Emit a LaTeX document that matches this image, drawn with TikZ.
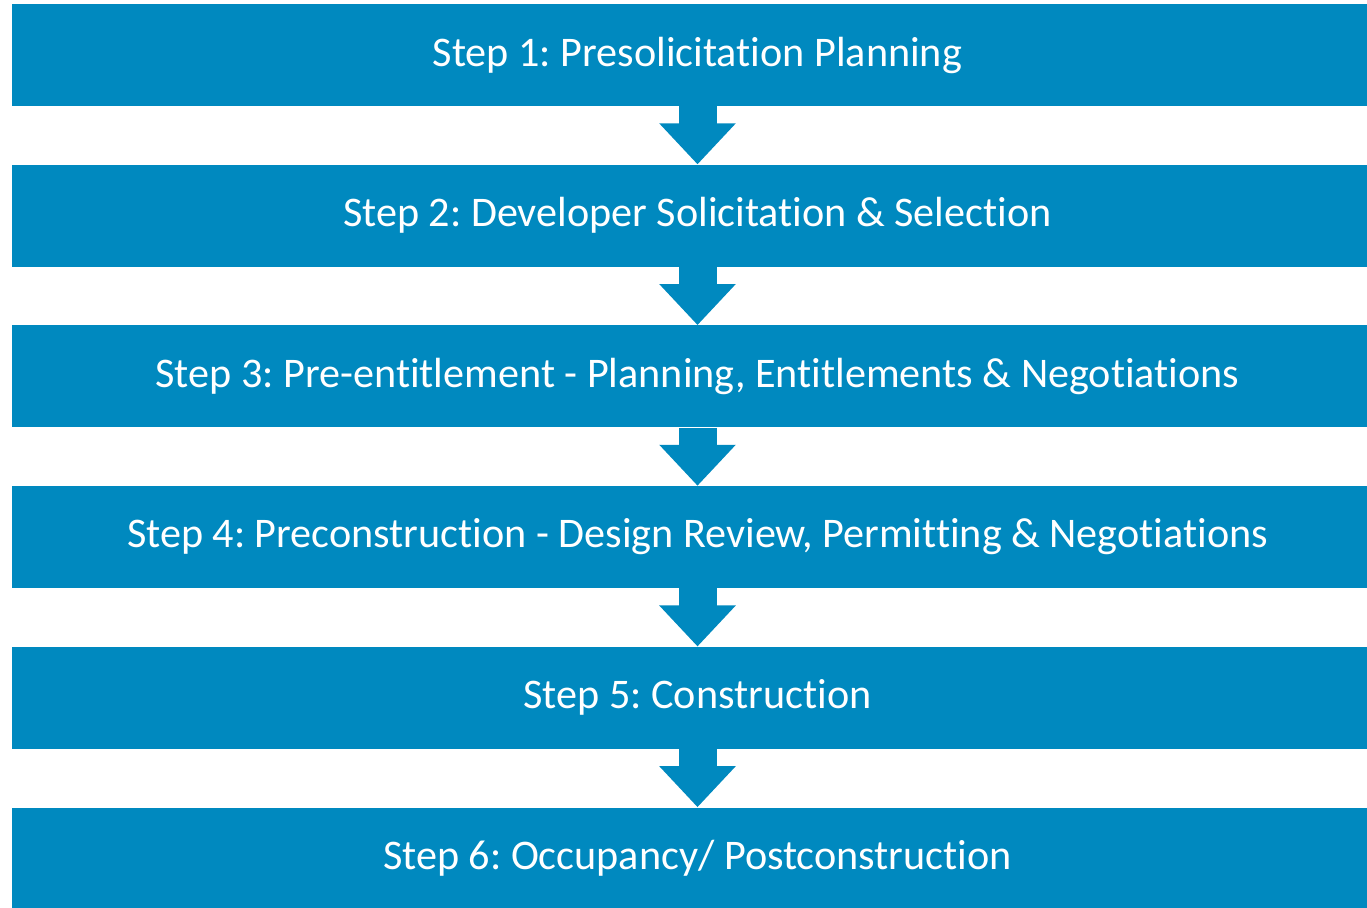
\documentclass[tikz,border=0pt]{standalone}
\usepackage{fontspec}
\setmainfont[Ligatures=NoCommon]{Carlito}
\usetikzlibrary{arrows.meta,positioning}
\definecolor{stepblue}{HTML}{0089BF}
\frenchspacing

\begin{document}
\begin{tikzpicture}[
  node distance=1.16cm,
  every node/.style={font=\fontsize{24}{29}\selectfont, align=center},
  stepbox/.style={fill=stepblue, text=white, minimum width=27.42cm, minimum height=2.04cm, inner sep=0pt},
  flow/.style={stepblue, line width=0.76cm, -{Triangle[length=0.82cm, width=1.48cm]}},
]
\useasboundingbox (0,0) rectangle (27.34,-18.16);
\node[stepbox] (s1) at (13.95,-1.10) {Step 1: Presolicitation Planning};
\node[stepbox, below=of s1] (s2) {Step 2: Developer Solicitation \& Selection};
\node[stepbox, below=of s2] (s3) {Step 3: Pre-entitlement - Planning, Entitlements \& Negotiations};
\node[stepbox, below=of s3] (s4) {Step 4: Preconstruction - Design Review, Permitting \& Negotiations};
\node[stepbox, below=of s4] (s5) {Step 5: Construction};
\node[stepbox, below=of s5] (s6) {Step 6: Occupancy/ Postconstruction};
\draw[flow] (s1) -- (s2);
\draw[flow] (s2) -- (s3);
\draw[flow] (s3) -- (s4);
\draw[flow] (s4) -- (s5);
\draw[flow] (s5) -- (s6);
\end{tikzpicture}
\end{document}
